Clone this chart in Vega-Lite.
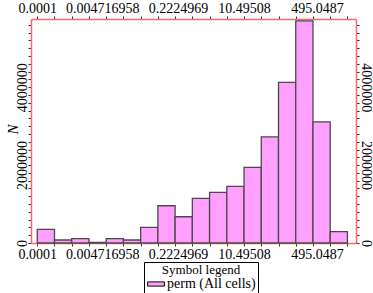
{
  "$schema": "https://vega.github.io/schema/vega-lite/v6.json",
  "autosize": {"type": "none"},
  "width": 325,
  "height": 224,
  "padding": {"left": 31, "top": 19, "right": 17, "bottom": 50},
  "background": "white",
  "config": {
    "view": {"stroke": null},
    "font": "Liberation Serif",
    "axis": {
      "labelFont": "Liberation Serif",
      "labelFontSize": 14,
      "labelColor": "black",
      "domainColor": "#ff6666",
      "domainWidth": 1.5,
      "tickColor": "#333333",
      "tickSize": 3,
      "tickWidth": 1,
      "grid": false,
      "labelFlush": false,
      "labelOverlap": false,
      "labelPadding": 1,
      "titleFont": "Liberation Serif"
    },
    "legend": {
      "titleFont": "Liberation Serif",
      "labelFont": "Liberation Serif"
    }
  },
  "datasets": {
    "bins": [
      {"lo": 0.0001, "hi": 0.000262067, "n": 351000, "series": "perm (All cells)"},
      {"lo": 0.000262067, "hi": 0.000686791, "n": 77000, "series": "perm (All cells)"},
      {"lo": 0.000686791, "hi": 0.00179985, "n": 110000, "series": "perm (All cells)"},
      {"lo": 0.00179985, "hi": 0.004716958, "n": 18000, "series": "perm (All cells)"},
      {"lo": 0.004716958, "hi": 0.0123616, "n": 110000, "series": "perm (All cells)"},
      {"lo": 0.0123616, "hi": 0.0323957, "n": 77000, "series": "perm (All cells)"},
      {"lo": 0.0323957, "hi": 0.0848982, "n": 402000, "series": "perm (All cells)"},
      {"lo": 0.0848982, "hi": 0.2224969, "n": 956000, "series": "perm (All cells)"},
      {"lo": 0.2224969, "hi": 0.583091, "n": 674000, "series": "perm (All cells)"},
      {"lo": 0.583091, "hi": 1.52809, "n": 1146000, "series": "perm (All cells)"},
      {"lo": 1.52809, "hi": 4.00461, "n": 1300000, "series": "perm (All cells)"},
      {"lo": 4.00461, "hi": 10.49508, "n": 1454000, "series": "perm (All cells)"},
      {"lo": 10.49508, "hi": 27.5041, "n": 1941000, "series": "perm (All cells)"},
      {"lo": 27.5041, "hi": 72.0793, "n": 2726000, "series": "perm (All cells)"},
      {"lo": 72.0793, "hi": 188.896, "n": 4121000, "series": "perm (All cells)"},
      {"lo": 188.896, "hi": 495.0487, "n": 5700000, "series": "perm (All cells)"},
      {"lo": 495.0487, "hi": 1297.36, "n": 3110000, "series": "perm (All cells)"},
      {"lo": 1297.36, "hi": 3399.95, "n": 290000, "series": "perm (All cells)"}
    ]
  },
  "data": {"name": "bins"},
  "resolve": {"axis": {"x": "independent", "y": "independent"}},
  "layer": [
    {
      "mark": {"type": "bar", "stroke": "#4a4a4a", "strokeWidth": 1.3, "orient": "vertical"},
      "encoding": {
        "x": {
          "field": "lo", "type": "quantitative",
          "scale": {"type": "log", "domain": [0.0000932, 4150], "nice": false},
          "axis": {
            "orient": "bottom", "title": null,
            "values": [0.0001, 0.000262067, 0.000686791, 0.00179985, 0.004716958, 0.0123616, 0.0323957, 0.0848982, 0.2224969, 0.583091, 1.52809, 4.00461, 10.49508, 27.5041, 72.0793, 188.896, 495.0487, 1297.36, 3399.95],
            "labelExpr": "indexof([0.0001, 0.004716958, 0.2224969, 10.49508, 495.0487], datum.value) >= 0 ? '' + datum.value : ''",
            "labelOffset": {"condition": [{"test": "datum.value > 0.001 && datum.value < 0.01", "value": -4}, {"test": "datum.value > 0.1 && datum.value < 1", "value": 3}, {"test": "datum.value > 100 && datum.value < 1000", "value": 4}], "value": 0}
          }
        },
        "x2": {"field": "hi"},
        "y": {
          "field": "n", "type": "quantitative",
          "scale": {"domain": [0, 5750000], "nice": false},
          "axis": {
            "orient": "left", "title": "N",
            "titleFontStyle": "italic", "titleFontWeight": "normal", "titleFontSize": 15, "titleColor": "black",
            "titleX": -19, "titleY": 110, "titleAngle": -90, "titleAlign": "center", "titleBaseline": "middle",
            "labelPadding": 2,
            "values": [0, 200000, 400000, 600000, 800000, 1000000, 1200000, 1400000, 1600000, 1800000, 2000000, 2200000, 2400000, 2600000, 2800000, 3000000, 3200000, 3400000, 3600000, 3800000, 4000000, 4200000, 4400000, 4600000, 4800000, 5000000, 5200000, 5400000, 5600000],
            "labelExpr": "datum.value % 2000000 == 0 ? format(datum.value, 'd') : ''",
            "labelAngle": -90, "labelAlign": "center", "labelBaseline": "alphabetic"
          }
        },
        "y2": {"datum": 0},
        "color": {
          "field": "series", "type": "nominal",
          "scale": {"range": ["#ffa0ff"]},
          "legend": {
            "orient": "none", "legendX": 113, "legendY": 243,
            "title": "Symbol legend",
            "titleFontSize": 13, "titleFontWeight": "normal", "titleColor": "black",
            "titleAnchor": "middle", "titleAlign": "center", "titlePadding": 0,
            "labelFontSize": 14, "labelColor": "black", "labelOffset": 4,
            "symbolType": "M-1.4,-0.35H1.4V0.35H-1.4Z", "symbolSize": 144, "symbolOffset": 3,
            "symbolStrokeColor": "black", "symbolStrokeWidth": 1,
            "strokeColor": "black", "padding": 2, "fillColor": "white"
          }
        }
      }
    },
    {
      "mark": {"type": "bar", "opacity": 0, "orient": "vertical"},
      "encoding": {
        "x": {
          "field": "lo", "type": "quantitative",
          "scale": {"type": "log", "domain": [0.0000932, 4150], "nice": false},
          "axis": {
            "orient": "top", "title": null,
            "values": [0.0001, 0.000262067, 0.000686791, 0.00179985, 0.004716958, 0.0123616, 0.0323957, 0.0848982, 0.2224969, 0.583091, 1.52809, 4.00461, 10.49508, 27.5041, 72.0793, 188.896, 495.0487, 1297.36, 3399.95],
            "labelExpr": "indexof([0.0001, 0.004716958, 0.2224969, 10.49508, 495.0487], datum.value) >= 0 ? '' + datum.value : ''",
            "labelOffset": {"condition": [{"test": "datum.value > 0.001 && datum.value < 0.01", "value": -4}, {"test": "datum.value > 0.1 && datum.value < 1", "value": 3}, {"test": "datum.value > 100 && datum.value < 1000", "value": 4}], "value": 0}
          }
        },
        "x2": {"field": "hi"},
        "y": {
          "field": "n", "type": "quantitative",
          "scale": {"domain": [0, 5750000], "nice": false},
          "axis": {
            "orient": "right", "title": null,
            "labelPadding": 2,
            "values": [0, 200000, 400000, 600000, 800000, 1000000, 1200000, 1400000, 1600000, 1800000, 2000000, 2200000, 2400000, 2600000, 2800000, 3000000, 3200000, 3400000, 3600000, 3800000, 4000000, 4200000, 4400000, 4600000, 4800000, 5000000, 5200000, 5400000, 5600000],
            "labelExpr": "datum.value % 2000000 == 0 ? format(datum.value, 'd') : ''",
            "labelAngle": 90, "labelAlign": "center", "labelBaseline": "alphabetic"
          }
        },
        "y2": {"datum": 0}
      }
    }
  ]
}
